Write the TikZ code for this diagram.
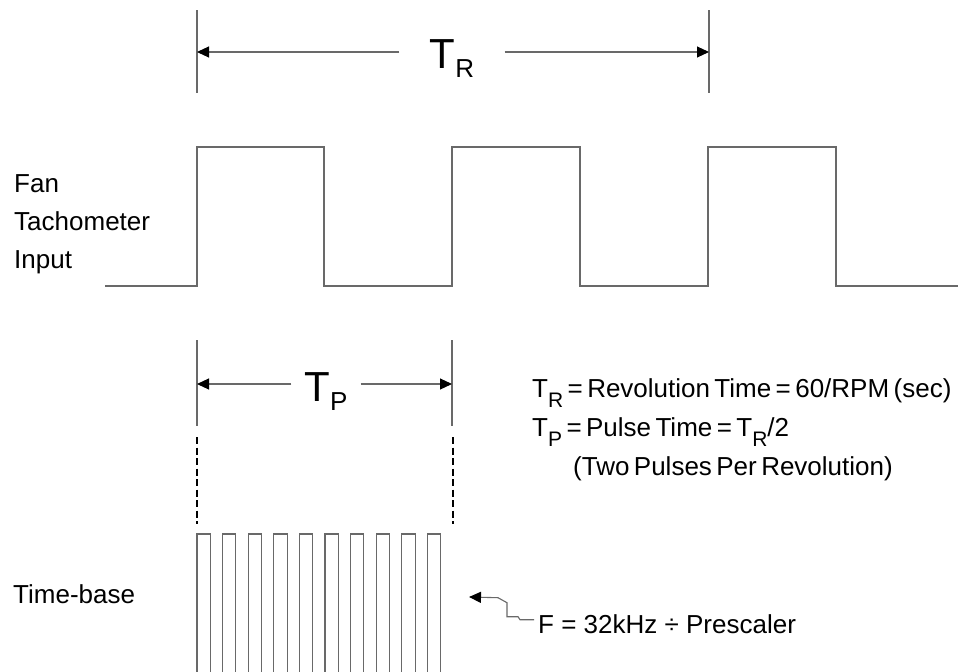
\documentclass[tikz,border=0pt]{standalone}
\usepackage{fontspec}
\setmainfont{Liberation Sans}
\usetikzlibrary{arrows.meta,positioning,calc}
\definecolor{wavegray}{RGB}{105,105,105}
\definecolor{ink}{RGB}{0,0,0}
\newcommand{\bigsub}[1]{\raisebox{-9pt}{\fontsize{26}{26}\selectfont #1}}
\newcommand{\textsub}[1]{\raisebox{-10pt}{\fontsize{21}{21}\selectfont #1}}
\newcommand{\tightspaces}{\spaceskip=0.17em plus 0.05em\relax}
\tikzset{
	wave/.style={draw=wavegray,line width=1.1pt,line join=miter},
	tick/.style={draw=wavegray,line width=1.1pt},
	dimarrow/.style={draw=wavegray,line width=1.1pt,
		-{Triangle[length=12pt,width=11pt,color=ink]}},
	gridline/.style={draw=ink,line width=2.2pt,dash pattern=on 7pt off 3.5pt},
	dimlabel/.style={inner sep=0pt,text=ink},
	label/.style={inner sep=0pt,text=ink,align=left,font=\fontsize{26}{38}\selectfont},
	note/.style={inner sep=0pt,text=ink,align=left,
		font=\fontsize{26}{39}\selectfont\tightspaces},
}
\begin{document}
\begin{tikzpicture}[x=1pt,y=-1pt]
		\useasboundingbox (0,0) rectangle (959,672);
		
		% revolution time T_R
		\draw[tick] (197,10) -- (197,93);
		\draw[tick] (709,10) -- (709,93);
		\coordinate (trLeft) at (197,52);
		\coordinate (trRight) at (709,52);
		\node[dimlabel,anchor=base,minimum width=105pt] (trLabel) at (452,68)
		{\fontsize{42}{42}\selectfont T\bigsub{R}};
		\draw[dimarrow] (trLabel.west |- trLeft) -- (trLeft);
		\draw[dimarrow] (trLabel.east |- trRight) -- (trRight);
		
		% fan tachometer square wave
		\node[label,anchor=base west] (fanLabel) at (14,268)
		{Fan\\Tachometer\\Input};
		\draw[wave] (105,286) -- (197,286) -- (197,147) -- (324,147) -- (324,286)
		-- (452,286) -- (452,147) -- (580,147) -- (580,286) -- (708,286)
		-- (708,147) -- (836,147) -- (836,286) -- (958,286);
		
		% pulse time T_P
		\draw[tick] (197,340) -- (197,426);
		\draw[tick] (452,340) -- (452,426);
		\coordinate (tpLeft) at (197,384);
		\coordinate (tpRight) at (452,384);
		\node[dimlabel,anchor=base,minimum width=69pt] (tpLabel) at (326,401)
		{\fontsize{42}{42}\selectfont T\bigsub{P}};
		\draw[dimarrow] (tpLabel.west |- tpLeft) -- (tpLeft);
		\draw[dimarrow] (tpLabel.east |- tpRight) -- (tpRight);
		\draw[gridline] (197,437) -- (197,524);
		\draw[gridline] (453,437) -- (453,524);
		
		\node[note,anchor=base west] (formula) at (532,475)
		{T\textsub{R} = Revolution Time = 60/RPM (sec)\\
			T\textsub{P} = Pulse Time = T\textsub{R}/2\\
			\hspace*{41pt}(Two Pulses Per Revolution)};
		
		% time-base pulse train
		\node[label,anchor=base west] (baseLabel) at (13,603) {Time-base};
		\foreach \i in {0,...,9}{
			\draw[wave] ({197+25.6*\i},672) -- ({197+25.6*\i},534)
			-- ({210.3+25.6*\i},534) -- ({210.3+25.6*\i},672);
		}
		
		\node[label,anchor=base west,inner sep=4pt] (fLabel) at (534,633)
		{F = 32kHz ÷ Prescaler};
		\coordinate (fTip) at (469,597);
		\draw[dimarrow] ([yshift=4pt]fLabel.west) -- ++(-14,0) -- ++(-2,-3)
		-- ++(-11,0) -- ++(0,-14) -- ++(-9,-5) -- (fTip);
	\end{tikzpicture}
\end{document}
